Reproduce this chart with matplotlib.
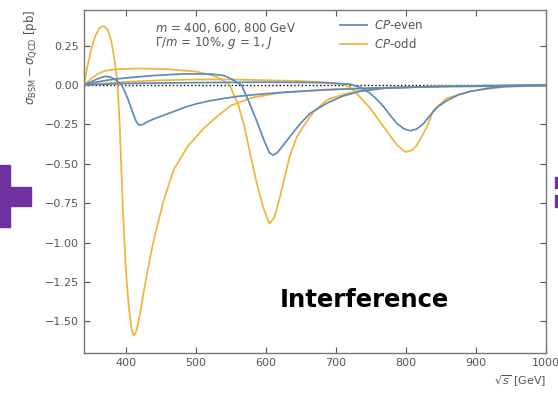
import matplotlib
matplotlib.use("Agg")
import matplotlib.pyplot as plt
from matplotlib.patches import Rectangle

# CP-even, m = 400 GeV
e400_x = [340, 350, 360, 370, 378, 386, 394, 402, 410, 415, 419, 424, 430, 440, 455, 470, 485, 500, 520, 540, 560, 580, 620, 680, 750, 850, 1000]
e400_y = [0, 0.02, 0.04, 0.055, 0.05, 0.03, 0.0, -0.08, -0.18, -0.235, -0.255, -0.25, -0.235, -0.215, -0.19, -0.165, -0.14, -0.12, -0.1, -0.085, -0.072, -0.063, -0.048, -0.032, -0.02, -0.01, -0.004]

# CP-even, m = 600 GeV
e600_x = [340, 360, 380, 400, 440, 480, 520, 540, 552, 560, 565, 575, 586, 598, 605, 610, 616, 625, 639, 650, 663, 687, 710, 734, 770, 850, 1000]
e600_y = [0, 0.02, 0.035, 0.045, 0.06, 0.07, 0.07, 0.06, 0.035, 0.012, 0.0, -0.1, -0.22, -0.36, -0.43, -0.445, -0.43, -0.38, -0.3, -0.24, -0.18, -0.115, -0.07, -0.04, -0.02, -0.008, 0]

# CP-even, m = 800 GeV
e800_x = [340, 400, 500, 600, 680, 720, 735, 749, 758, 768, 777, 787, 797, 806, 815, 825, 835, 845, 858, 875, 891, 915, 940, 970, 1000]
e800_y = [0, 0.01, 0.015, 0.018, 0.015, 0.005, -0.015, -0.053, -0.09, -0.137, -0.19, -0.243, -0.278, -0.29, -0.28, -0.245, -0.19, -0.14, -0.1, -0.062, -0.042, -0.022, -0.01, -0.004, 0]

# CP-odd, m = 400 GeV
o400_x = [340, 345, 350, 356, 362, 368, 374, 379, 384, 388, 391, 395, 399.5, 404, 408, 411, 414, 417, 421, 425, 430, 436, 442, 454, 468, 488, 511, 530, 550, 580, 620, 680, 750, 850, 1000]
o400_y = [0, 0.12, 0.22, 0.31, 0.36, 0.375, 0.35, 0.28, 0.15, 0.0, -0.25, -0.73, -1.15, -1.41, -1.55, -1.59, -1.57, -1.52, -1.43, -1.32, -1.2, -1.06, -0.94, -0.73, -0.54, -0.39, -0.275, -0.2, -0.13, -0.08, -0.05, -0.03, -0.018, -0.01, -0.005]

# CP-odd, m = 600 GeV
o600_x = [340, 350, 360, 370, 385, 420, 460, 500, 520, 535, 548, 560, 569, 578, 588, 597, 605, 612, 620, 627, 634, 644, 653, 668, 687, 710, 730, 770, 850, 1000]
o600_y = [0, 0.04, 0.07, 0.09, 0.1, 0.105, 0.1, 0.085, 0.065, 0.04, 0.0, -0.12, -0.26, -0.45, -0.645, -0.79, -0.88, -0.84, -0.71, -0.58, -0.45, -0.33, -0.265, -0.17, -0.095, -0.06, -0.04, -0.02, -0.008, 0]

# CP-odd, m = 800 GeV
o800_x = [340, 400, 450, 500, 550, 600, 650, 690, 710, 722, 735, 749, 768, 787, 799, 808, 815, 822, 830, 839, 858, 891, 940, 1000]
o800_y = [0, 0.02, 0.03, 0.035, 0.035, 0.03, 0.025, 0.015, 0.005, -0.02, -0.08, -0.148, -0.265, -0.38, -0.425, -0.415, -0.385, -0.33, -0.265, -0.16, -0.085, -0.04, -0.012, -0.003]

even_curves = [(e400_x, e400_y), (e600_x, e600_y), (e800_x, e800_y)]
odd_curves = [(o400_x, o400_y), (o600_x, o600_y), (o800_x, o800_y)]

COLOR_EVEN = "#5b8bbd"
COLOR_ODD = "#f2b33a"
GREY = "#555555"

plt.rcParams["font.family"] = "DejaVu Sans"

fig = plt.figure(figsize=(5.58, 4.04), dpi=100)
ax = fig.add_axes([0.1505, 0.1262, 0.828, 0.8488])

ax.axhline(0, color="black", linestyle=":", linewidth=1.0, zorder=1)
for i, (x, y) in enumerate(even_curves):
    ax.plot(x, y, color=COLOR_EVEN, linewidth=1.25, label="$CP$-even" if i == 0 else None, zorder=3)
for i, (x, y) in enumerate(odd_curves):
    ax.plot(x, y, color=COLOR_ODD, linewidth=1.25, label="$CP$-odd" if i == 0 else None, zorder=2)

ax.set_xlim(340, 1000)
ax.set_ylim(-1.70, 0.475)
ax.set_xticks([400, 500, 600, 700, 800, 900, 1000])
ax.set_yticks([-1.5, -1.25, -1.0, -0.75, -0.5, -0.25, 0.0, 0.25])
ax.set_yticklabels([f"{v:.2f}".replace("-", "\u2212") for v in ax.get_yticks()])
ax.tick_params(direction="in", top=True, right=True, labelsize=8,
               colors=GREY, length=4, width=0.8)
for s in ax.spines.values():
    s.set_color("#777777")
    s.set_linewidth(1.0)

ax.set_ylabel(r"$\sigma_{\rm BSM} - \sigma_{\rm QCD}$ [pb]", loc="top", fontsize=8.5, color=GREY)
ax.set_xlabel(r"$\sqrt{s}$ [GeV]", loc="right", fontsize=8, color=GREY)

ax.text(0.154, 0.9475, r"$m$ = 400, 600, 800 GeV", transform=ax.transAxes,
        fontsize=8.5, color=GREY, va="center")
ax.text(0.154, 0.904, r"$\Gamma/m$ = 10%, $g$ = 1, $J$", transform=ax.transAxes,
        fontsize=8.5, color=GREY, va="center")

leg = ax.legend(loc="upper left", bbox_to_anchor=(0.554, 0.975), frameon=False,
                fontsize=8.5, handlelength=2.3, handletextpad=0.6,
                labelspacing=0.45, borderpad=0, borderaxespad=0)
for t in leg.get_texts():
    t.set_color(GREY)

fig.text(0.502, 0.257, "Interference", fontsize=17.5, fontweight="bold",
         color="black", va="center", ha="left")

# slide decorations (purple signs cut at the edges)
purple = "#7030a0"
fig.patches.append(Rectangle((-10 / 558, 1 - 227 / 404), 20 / 558, 62 / 404,
                             transform=fig.transFigure, color=purple))
fig.patches.append(Rectangle((0, 1 - 206 / 404), 31 / 558, 19 / 404,
                             transform=fig.transFigure, color=purple))
fig.patches.append(Rectangle((555 / 558, 1 - 188 / 404), 5 / 558, 11 / 404,
                             transform=fig.transFigure, color=purple))
fig.patches.append(Rectangle((555 / 558, 1 - 207 / 404), 5 / 558, 12 / 404,
                             transform=fig.transFigure, color=purple))

fig.savefig("out.png", dpi=100, facecolor="white")
